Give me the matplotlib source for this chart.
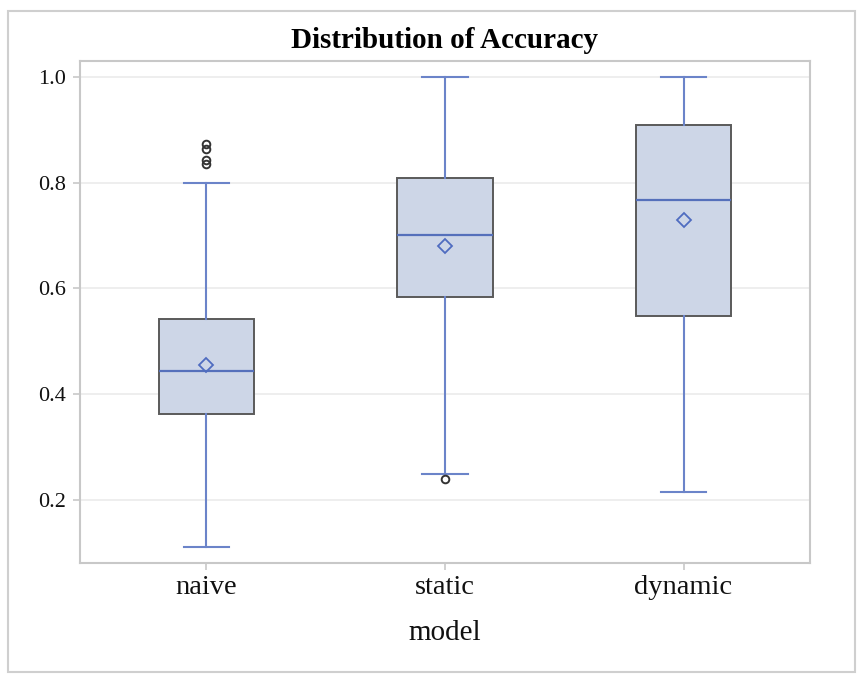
import matplotlib
matplotlib.use("Agg")
import matplotlib.pyplot as plt
from matplotlib.patches import Rectangle

categories = ["naive", "static", "dynamic"]
whislo = [0.111, 0.249, 0.215]
q1 = [0.363, 0.584, 0.548]
med = [0.444, 0.701, 0.767]
q3 = [0.542, 0.809, 0.909]
whishi = [0.800, 1.000, 1.000]
means = [0.455, 0.680, 0.730]
fliers = [[0.873, 0.864, 0.843, 0.835], [0.240], []]

plt.rcParams['font.family'] = ['Liberation Serif', 'DejaVu Serif']

fig = plt.figure(figsize=(8.57, 6.77), dpi=100)
ax = fig.add_axes([80/857, 1-563/677, 730/857, 502/677])

stats = []
for i, c in enumerate(categories):
    stats.append(dict(label=c, whislo=whislo[i], q1=q1[i], med=med[i], q3=q3[i],
                      whishi=whishi[i], mean=means[i], fliers=fliers[i]))

blue = "#6B84C9"
ax.bxp(stats, positions=[1, 2, 3], widths=0.40, patch_artist=True, showmeans=True,
       boxprops=dict(facecolor="#CDD6E7", edgecolor="#5A5A5A", linewidth=1.4),
       medianprops=dict(color="#5570BB", linewidth=1.6),
       whiskerprops=dict(color=blue, linewidth=1.5),
       capprops=dict(color=blue, linewidth=1.5),
       capwidths=0.19,
       meanprops=dict(marker="D", markerfacecolor="none", markeredgecolor="#4F6CC0",
                      markersize=7, markeredgewidth=1.3),
       flierprops=dict(marker="o", markerfacecolor="none", markeredgecolor="#333333",
                       markersize=5.5, markeredgewidth=1.4),
       zorder=3)

ax.set_xlim(0.47, 3.53)
ax.set_ylim(0.081, 1.030)
ax.set_yticks([0.2, 0.4, 0.6, 0.8, 1.0])
ax.set_yticklabels(["0.2", "0.4", "0.6", "0.8", "1.0"])
ax.set_xticks([1, 2, 3])
ax.set_xticklabels(categories, fontsize=20.5)
ax.tick_params(axis='y', labelsize=16, colors="#C8C8C8", labelcolor="#111111", length=5, width=1.2, pad=5)
ax.tick_params(axis='x', colors="#C8C8C8", labelcolor="#111111", length=5, width=1.2, pad=4)
ax.grid(axis='y', color="#EBEBEB", linewidth=1.2, zorder=0)
ax.set_axisbelow(True)
for s in ax.spines.values():
    s.set_color("#C8C8C8")
    s.set_linewidth(1.5)

ax.set_xlabel("model", fontsize=21, labelpad=14, color="#111111")
ax.set_title("Distribution of Accuracy", fontsize=21, fontweight="bold", pad=9)

fig.patches.append(Rectangle((8/857, 5/677), 847/857, 661/677, transform=fig.transFigure,
                             fill=False, edgecolor="#CFCFCF", linewidth=1.5))

fig.savefig("out.png", dpi=100)
